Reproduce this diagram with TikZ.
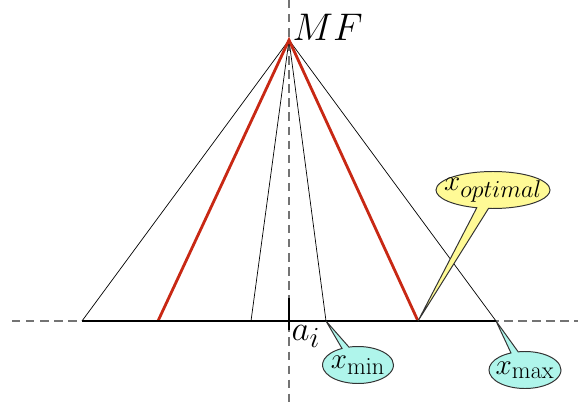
\documentclass[tikz,border=0pt]{standalone}
\usepackage{amsmath}
\usepackage{tikz}
\usetikzlibrary{shapes.callouts}

\DeclareMathSizes{20.74}{20.74}{17.28}{14.4}

\definecolor{optred}{RGB}{200,40,20}
\definecolor{calloutyellow}{RGB}{255,250,150}
\definecolor{calloutcyan}{RGB}{175,245,235}

\begin{document}
\begin{tikzpicture}[x=0.025cm, y=-0.025cm,
    thinray/.style={black, line width=0.5pt},
    redray/.style={optred, line width=2pt},
    axisdash/.style={black!55, dashed, line width=0.9pt, dash pattern=on 6pt off 4pt},
    bubble/.style={ellipse callout, draw=black!80, line width=0.7pt, inner sep=0pt,
        minimum height=37*0.025cm, font=\huge, callout pointer arc=12}]
    \useasboundingbox (0,0) rectangle (578,406);

    % Puntos base
    \coordinate (MF) at (289,40);
    \coordinate (ai) at (289,321);
    \coordinate (left) at (82,321);
    \coordinate (right) at (496,321);
    \coordinate (redL) at (158,321);
    \coordinate (redR) at (418,321);
    \coordinate (innL) at (251,321);
    \coordinate (xmin) at (326,321);

    % Ejes discontinuos
    \draw[axisdash] (12,321) -- (578,321);
    \draw[axisdash] (289,0) -- (289,406);

    % Rayos desde MF
    \foreach \p in {left, innL, xmin, right}
        \draw[thinray] (MF) -- (\p);
    \draw[redray] (redL) -- (MF) -- (redR);

    % Segmento soporte
    \draw[black, line width=2pt] (left) -- (right);
    \draw[black, line width=1.5pt] (289,298) -- (289,330);

    % Etiquetas
    \node[anchor=base west, font=\Huge, inner sep=1pt] (mflabel) at (291,41) {\scalebox{1.1}{$MF$}};
    \node[anchor=north west, font=\Huge, inner sep=1pt] (ailabel) at (290,324) {$a_i$};

    % Globos
    \node[bubble, fill=calloutyellow, minimum width=114*0.025cm,
        callout absolute pointer={(redR)}] (xopt) at (493,190) {\makebox[0pt]{$x_{optimal}$}};
    \node[bubble, fill=calloutcyan, minimum width=71*0.025cm,
        callout absolute pointer={(xmin)}] (xminlabel) at (358,365) {\makebox[0pt]{$x_{\min}$}};
    \node[bubble, fill=calloutcyan, minimum width=72*0.025cm,
        callout absolute pointer={(right)}] (xmaxlabel) at (525,370) {\makebox[0pt]{$x_{\max}$}};
\end{tikzpicture}
\end{document}
